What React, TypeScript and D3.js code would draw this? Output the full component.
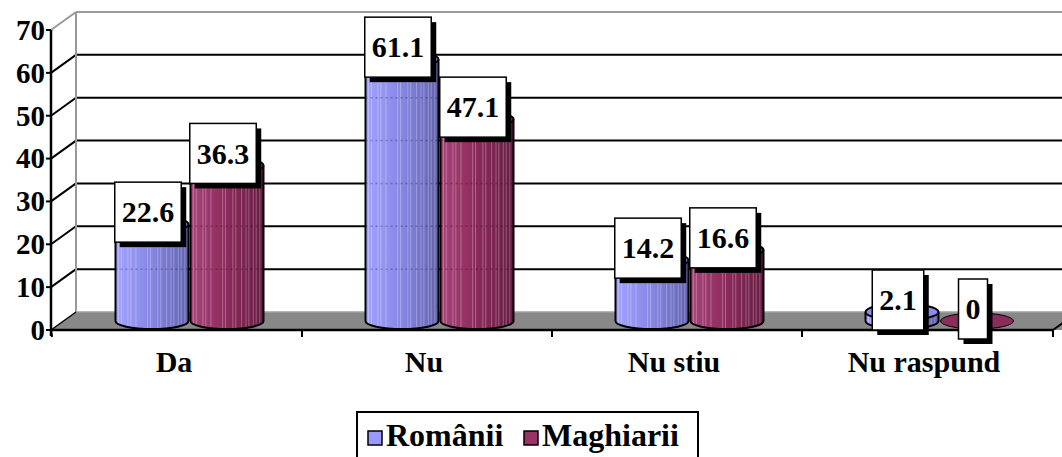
import React, { useEffect, useRef } from "react";
import * as d3 from "d3";

const categories = ["Da", "Nu", "Nu stiu", "Nu raspund"];
const seriesNames = ["Românii", "Maghiarii"];
const romanii = [22.6, 61.1, 14.2, 2.1];
const maghiarii = [36.3, 47.1, 16.6, 0];
const yTicks = [0, 10, 20, 30, 40, 50, 60, 70];

const W = 1062, H = 457;
const FONT = "Liberation Serif";
const DX = 25, DY = -18;
const X0 = 51, X1 = 1053;

// approximate advance widths (em) of Liberation Serif Bold for digit labels
function textW(t: string, size: number) {
  let w = 0;
  for (const ch of t) w += ch === "." ? 0.25 : 0.5;
  return w * size;
}

export default function App() {
  const ref = useRef<SVGSVGElement>(null);

  useEffect(() => {
    if (!ref.current) return;
    d3.select(ref.current)
      .selectAll("text")
      .style("font-family", '"Liberation Serif", "Times New Roman", serif', "important")
      .style("font-weight", "700", "important");
  }, []);

  const x = d3.scaleBand<string>().domain(categories).range([X0 + 1, X1 - 1]);
  const y = d3.scaleLinear().domain([0, 70]).range([330, 30]);
  const sub = d3.scaleBand<string>().domain(seriesNames).range([-75, 75]);
  const bw = 73, rx = bw / 2, ry = 8;
  const colors = ["url(#gBlue)", "url(#gRed)"];
  const topColors = ["#8c8cf0", "#8a2c5c"];
  const legendColors = ["#9999ff", "#993366"];
  const series = [romanii, maghiarii];

  const y0 = y(0);
  const backRight = W + 10;

  const bars: any[] = [];
  categories.forEach((c, i) => {
    seriesNames.forEach((s, k) => {
      const v = series[k][i];
      const cx = (x(c) as number) + x.bandwidth() / 2 + DX / 2 + (sub(s) as number) + sub.bandwidth() / 2;
      const botY = y0 + DY / 2;
      const topY = y(v) + DY / 2;
      bars.push({ c, s, k, v, cx, botY, topY });
    });
  });

  const stripes = [0.04, 0.08, 0.17, 0.21, 0.28, 0.44, 0.48, 0.58, 0.62, 0.7, 0.76, 0.8, 0.86, 0.9, 0.95];

  return (
    <svg ref={ref} width={W} height={H} style={{ position: "absolute", left: 0, top: 0 }}>
      <defs>
        <linearGradient id="gBlue" x1="0" x2="1" y1="0" y2="0">
          <stop offset="0" stopColor="#a2a2ff" />
          <stop offset="0.5" stopColor="#8686e4" />
          <stop offset="1" stopColor="#6262ae" />
        </linearGradient>
        <linearGradient id="gRed" x1="0" x2="1" y1="0" y2="0">
          <stop offset="0" stopColor="#a8447a" />
          <stop offset="0.5" stopColor="#8c2b5b" />
          <stop offset="1" stopColor="#661c42" />
        </linearGradient>
        {bars.map((b, j) => (
          <clipPath id={`clip${j}`} key={j}>
            <path d={`M${b.cx - rx},${b.topY} L${b.cx - rx},${b.botY} A${rx},${ry} 0 0 0 ${b.cx + rx},${b.botY} L${b.cx + rx},${b.topY} Z`} />
          </clipPath>
        ))}
      </defs>
      <rect x={0} y={0} width={W} height={H} fill="#fff" />

      {/* floor */}
      <path d={`M${X0},${y0} L${X0 + DX},${y0 + DY} L${backRight + DX},${y0 + DY} L${backRight},${y0} Z`} fill="#888888" />
      <line x1={X0 + DX} x2={backRight} y1={y0 + DY} y2={y0 + DY} stroke="#a0a0a0" strokeWidth={1.5} />
      <line x1={X1} y1={y0} x2={X1 + DX} y2={y0 + DY} stroke="#000" strokeWidth={2} />

      {/* back wall gridlines */}
      {yTicks.filter(t => t > 0).map(t => (
        <g key={t}>
          <line x1={X0 + DX} x2={backRight} y1={y(t) + DY} y2={y(t) + DY} stroke={t === 70 ? "#999" : "#000"} strokeWidth={2} />
          <line x1={X0} y1={y(t)} x2={X0 + DX} y2={y(t) + DY} stroke={t === 70 ? "#999" : "#000"} strokeWidth={2} />
        </g>
      ))}
      <line x1={X0 + DX} x2={X0 + DX} y1={y(70) + DY} y2={y0 + DY} stroke="#999" strokeWidth={2} />
      <line x1={X0} y1={y0} x2={X0 + DX} y2={y0 + DY} stroke="#000" strokeWidth={1.5} />

      {/* front floor edge and axis */}
      <line x1={X0} x2={X1} y1={y0} y2={y0} stroke="#000" strokeWidth={2.5} />
      <line x1={X0} x2={X0} y1={y(70)} y2={y0 + 6} stroke="#000" strokeWidth={2.5} />
      {yTicks.map(t => (
        <g key={t}>
          <line x1={X0 - 5} x2={X0} y1={y(t)} y2={y(t)} stroke="#000" strokeWidth={2} />
          <text x={45} y={y(t)} dy="0.34em" textAnchor="end" fontFamily={FONT} fontWeight="bold" fontSize={29}>{t}</text>
        </g>
      ))}
      {categories.map((c, i) => (
        <line key={c} x1={(x(c) as number) + (i === 0 ? -1 : 0)} x2={(x(c) as number)} y1={y0} y2={y0 + 7} stroke="#000" strokeWidth={2} />
      ))}
      <line x1={X1} x2={X1} y1={y0} y2={y0 + 7} stroke="#000" strokeWidth={2} />
      {categories.map(c => (
        <text key={c} x={(x(c) as number) + x.bandwidth() / 2 - 3} y={372} textAnchor="middle" fontFamily={FONT} fontWeight="bold" fontSize={30}>{c}</text>
      ))}

      {/* cylinders */}
      {bars.map((b, j) => {
        const hasBody = b.botY - b.topY > 0.5;
        return (
          <g key={j}>
            {hasBody && (
              <>
                <path d={`M${b.cx - rx},${b.topY} L${b.cx - rx},${b.botY} A${rx},${ry} 0 0 0 ${b.cx + rx},${b.botY} L${b.cx + rx},${b.topY} Z`} fill={colors[b.k]} />
                <g clipPath={`url(#clip${j})`}>
                  {stripes.map((f, q) => (
                    <line key={q} x1={b.cx - rx + f * bw} x2={b.cx - rx + f * bw} y1={b.topY} y2={b.botY + ry} stroke="#fff" strokeOpacity={0.28} strokeWidth={1} />
                  ))}
                  {yTicks.filter(t => t > 0).map(t => (
                    <line key={t} x1={b.cx - rx} x2={b.cx + rx} y1={y(t) + DY} y2={y(t) + DY} stroke="#000" strokeOpacity={0.25} strokeWidth={1.5} strokeDasharray="2,3" />
                  ))}
                </g>
                <path d={`M${b.cx - rx},${b.topY} L${b.cx - rx},${b.botY} A${rx},${ry} 0 0 0 ${b.cx + rx},${b.botY} L${b.cx + rx},${b.topY}`} fill="none" stroke="#000" strokeWidth={2} />
              </>
            )}
            <ellipse cx={b.cx} cy={b.topY} rx={rx} ry={ry} fill={topColors[b.k]} stroke="#000" strokeWidth={hasBody ? 2 : 1} />
          </g>
        );
      })}

      {/* data labels */}
      {bars.map((b, j) => {
        const label = String(b.v);
        const tw = textW(label, 30);
        const bwid = tw + 14, bh = 60;
        const cxl = b.cx - 4;
        const cyl = b.topY - 12;
        return (
          <g key={"l" + j}>
            <rect x={cxl - bwid / 2 + 5} y={cyl - bh / 2 + 5} width={bwid} height={bh} fill="#000" />
            <rect x={cxl - bwid / 2} y={cyl - bh / 2} width={bwid} height={bh} fill="#fff" stroke="#000" strokeWidth={1.5} />
            <text x={cxl} y={cyl} dy="0.34em" textAnchor="middle" fontFamily={FONT} fontWeight="bold" fontSize={30}>{label}</text>
          </g>
        );
      })}

      {/* legend */}
      <rect x={357} y={412} width={341} height={70} fill="#fff" stroke="#000" strokeWidth={2} />
      {seriesNames.map((s, k) => {
        const lx = k === 0 ? 368 : 524;
        return (
          <g key={s}>
            <rect x={lx} y={431} width={14} height={14} fill={legendColors[k]} stroke="#000" strokeWidth={1.5} />
            <text x={lx + 18} y={446} fontFamily={FONT} fontWeight="bold" fontSize={32}>{s}</text>
          </g>
        );
      })}
    </svg>
  );
}
